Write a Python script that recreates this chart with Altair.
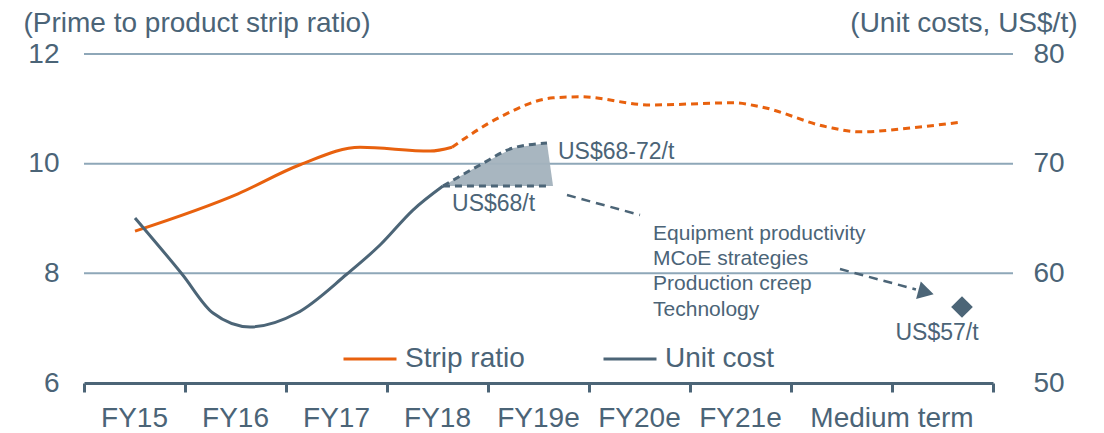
import altair as alt
import pandas as pd

# ---------------- data ----------------
cat_labels = ["FY15", "FY16", "FY17", "FY18", "FY19e", "FY20e", "FY21e", "Medium term"]
cat_pos = [0.5, 1.5, 2.5, 3.5, 4.5, 5.5, 6.5, 8.0]
x_ticks = [0, 1, 2, 3, 4, 5, 6, 7, 8, 9]

left_ticks = [6, 8, 10, 12]
left_grid = [8, 10, 12]
right_ticks = [50, 60, 70, 80]

# Strip ratio (left axis)
strip_solid_x = [0.505, 1.525, 2.139, 2.733, 3.426, 3.644]
strip_solid_v = [8.77, 9.45, 9.98, 10.30, 10.23, 10.30]
strip_dash_x = [3.644, 4.119, 4.644, 4.911, 5.604, 6.426, 6.693, 7.356, 7.683, 8.178, 8.693]
strip_dash_v = [10.30, 10.85, 11.20, 11.22, 11.07, 11.11, 11.04, 10.67, 10.58, 10.65, 10.76]

# Unit cost (right axis)
cost_x = [0.505, 0.970, 1.277, 1.644, 2.109, 2.604, 2.931, 3.257, 3.554]
cost_v = [65.05, 59.94, 56.38, 55.11, 56.38, 59.94, 62.58, 65.77, 67.96]

# Guidance range US$68-72/t
range_x = [3.554, 3.921, 4.248, 4.584, 4.644]
range_hi = [67.96, 69.88, 71.43, 71.88, 67.96]
range_lo = [67.96, 67.96, 67.96, 67.96, 67.96]
upper_x = [3.554, 3.921, 4.248, 4.584]
upper_v = [67.96, 69.88, 71.43, 71.88]
lower_x = [3.554, 4.614]
lower_v = [67.96, 67.96]

# dashed arrow toward medium term
arrow_x1 = [4.782, 7.485]
arrow_y1 = [67.14, 60.39]
arrow_x2 = [5.505, 8.237]
arrow_y2 = [65.32, 58.53]
head_x = [8.337]
head_v = [58.28]
target_x = [8.693]
target_v = [56.93]

ann_left_text = ["US$68-72/t", "US$68/t"]
ann_left_x = [4.693, 3.644]
ann_left_y = [70.42, 65.68]
bullet_text = ["Equipment productivity", "MCoE strategies", "Production creep", "Technology"]
bullet_x = [5.634, 5.634, 5.634, 5.634]
bullet_y = [63.04, 60.76, 58.48, 56.11]
ann_c_text = ["US$57/t"]
ann_c_x = [8.446]
ann_c_y = [53.92]

series_names = ["Strip ratio", "Unit cost"]

# ---------------- styling ----------------
TEXT = "#4b6477"
ORANGE = "#e8610e"
SLATE = "#4c6577"
GRID = "#8ea7b8"
FILL = "#a3b2bd"
W, H = 909, 329

x_scale = alt.Scale(domain=[0, 9], nice=False, zero=False)
x_axis = alt.Axis(values=x_ticks, labels=False, title=None, grid=False,
                  domainColor=SLATE, domainWidth=3, tickColor=SLATE,
                  tickWidth=3, tickSize=9)

yl_scale = alt.Scale(domain=[6, 12], nice=False, zero=False)
yl_axis = alt.Axis(values=left_ticks, grid=False, domain=False, ticks=False, tickSize=0,
                   labelFontSize=28, labelColor=TEXT, labelPadding=25,
                   title="(Prime to product strip ratio)", titleAngle=0,
                   titleX=-61, titleY=-23, titleAlign="left", titleBaseline="alphabetic",
                   titleFontSize=28, titleFontWeight="normal", titleColor=TEXT)

yr_scale = alt.Scale(domain=[50, 80], nice=False, zero=False)
yr_axis = alt.Axis(values=right_ticks, orient="right", grid=False, domain=False,
                   ticks=False, tickSize=0,
                   labelFontSize=28, labelColor=TEXT, labelPadding=40,
                   title="(Unit costs, US$/t)", titleAngle=0,
                   titleX=84, titleY=-23, titleAlign="right", titleBaseline="alphabetic",
                   titleFontSize=28, titleFontWeight="normal", titleColor=TEXT)

legend = alt.Legend(orient="none", legendX=258, legendY=277, direction="horizontal",
                    title=None, symbolType="stroke", symbolSize=2809,
                    symbolStrokeWidth=3, labelFontSize=28, labelColor=TEXT,
                    labelOffset=7, columnPadding=72, padding=0)
color_scale = alt.Scale(domain=series_names, range=[ORANGE, SLATE])

X = lambda f: alt.X(f, type="quantitative", scale=x_scale, axis=x_axis)
YL = lambda f: alt.Y(f, type="quantitative", scale=yl_scale, axis=yl_axis)
YR = lambda f: alt.Y(f, type="quantitative", scale=yr_scale, axis=yr_axis)

# ---------------- left group ----------------
grid_df = pd.DataFrame({"g": left_grid})
grid = alt.Chart(grid_df).mark_rule(color=GRID, strokeWidth=2).encode(
    y=YL("g"), x=alt.value(0), x2=alt.value(W + 20))

ss_df = pd.DataFrame({"x": strip_solid_x, "v": strip_solid_v, "series": series_names[0]})
strip_solid = alt.Chart(ss_df).mark_line(interpolate="monotone", strokeWidth=3).encode(
    x=X("x"), y=YL("v"),
    color=alt.Color("series:N", scale=color_scale, legend=legend))

sd_df = pd.DataFrame({"x": strip_dash_x, "v": strip_dash_v})
strip_dash = alt.Chart(sd_df).mark_line(interpolate="monotone", strokeWidth=3,
                                        strokeDash=[7, 5], color=ORANGE).encode(
    x=X("x"), y=YL("v"))

cat_df = pd.DataFrame({"pos": cat_pos, "label": cat_labels})
cats = alt.Chart(cat_df).mark_text(fontSize=28, color=TEXT, baseline="alphabetic",
                                   align="center").encode(
    x=X("pos"), y=alt.value(H + 44), text="label:N")

left = alt.layer(grid, strip_solid, strip_dash, cats)

# ---------------- right group ----------------
rg_df = pd.DataFrame({"x": range_x, "hi": range_hi, "lo": range_lo})
rng = alt.Chart(rg_df).mark_area(color=FILL, opacity=0.95).encode(
    x=X("x"), y=YR("hi"), y2="lo")

c_df = pd.DataFrame({"x": cost_x, "v": cost_v, "series": series_names[1]})
cost = alt.Chart(c_df).mark_line(interpolate="monotone", strokeWidth=3).encode(
    x=X("x"), y=YR("v"),
    color=alt.Color("series:N", scale=color_scale, legend=legend))

up_df = pd.DataFrame({"x": upper_x, "v": upper_v})
upper = alt.Chart(up_df).mark_line(interpolate="monotone", strokeWidth=3,
                                   strokeDash=[7, 5], color=SLATE).encode(
    x=X("x"), y=YR("v"))

lo_df = pd.DataFrame({"x": lower_x, "v": lower_v})
lower = alt.Chart(lo_df).mark_line(strokeWidth=3, strokeDash=[7, 5], color=SLATE).encode(
    x=X("x"), y=YR("v"))

ar_df = pd.DataFrame({"x1": arrow_x1, "y1": arrow_y1, "x2": arrow_x2, "y2": arrow_y2})
arrows = alt.Chart(ar_df).mark_rule(strokeWidth=2.5, strokeDash=[9, 6], color=SLATE).encode(
    x=X("x1"), y=YR("y1"), x2="x2", y2="y2")

hd_df = pd.DataFrame({"x": head_x, "v": head_v})
head = alt.Chart(hd_df).mark_point(shape="triangle-right", filled=True, size=330,
                                   angle=15, color=SLATE, opacity=1).encode(
    x=X("x"), y=YR("v"))

tg_df = pd.DataFrame({"x": target_x, "v": target_v})
target = alt.Chart(tg_df).mark_point(shape="diamond", filled=True, size=470,
                                     color=SLATE, opacity=1).encode(
    x=X("x"), y=YR("v"))

al_df = pd.DataFrame({"x": ann_left_x, "v": ann_left_y, "t": ann_left_text})
ann_left = alt.Chart(al_df).mark_text(fontSize=23, color=TEXT, align="left",
                                      baseline="alphabetic").encode(
    x=X("x"), y=YR("v"), text="t:N")

bl_df = pd.DataFrame({"x": bullet_x, "v": bullet_y, "t": bullet_text})
bullets = alt.Chart(bl_df).mark_text(fontSize=21, color=TEXT, align="left",
                                     baseline="alphabetic").encode(
    x=X("x"), y=YR("v"), text="t:N")

ac_df = pd.DataFrame({"x": ann_c_x, "v": ann_c_y, "t": ann_c_text})
ann_c = alt.Chart(ac_df).mark_text(fontSize=23, color=TEXT, align="center",
                                   baseline="alphabetic").encode(
    x=X("x"), y=YR("v"), text="t:N")

right = alt.layer(rng, cost, upper, lower, arrows, head, target, ann_left, bullets, ann_c)

chart = (
    alt.layer(left, right)
    .resolve_scale(y="independent")
    .properties(width=W, height=H,
                autosize=alt.AutoSizeParams(type="none"),
                padding={"left": 76, "top": 46, "right": 103, "bottom": 50})
    .configure(font="Liberation Sans")
    .configure_view(stroke=None)
)

chart.save("out.html", embed_options={"renderer": "svg", "actions": False})
